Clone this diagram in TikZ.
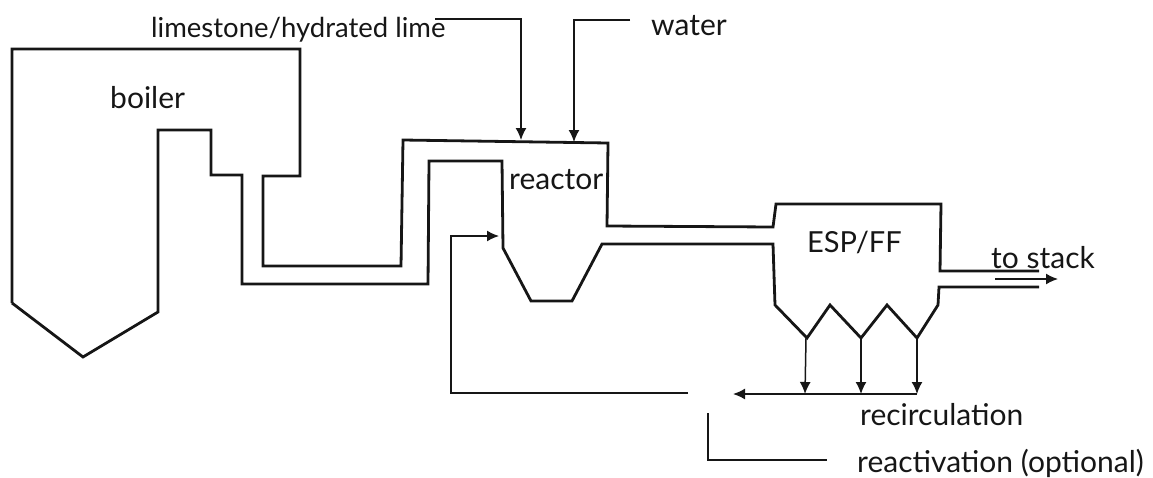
\documentclass[tikz,border=0pt]{standalone}
\usepackage{fontspec}
\setmainfont{Lato}
\usetikzlibrary{arrows.meta,positioning}
\definecolor{inkblack}{HTML}{161616}

\begin{document}
\begin{tikzpicture}[
    x=1pt, y=-1pt,
    wall/.style={draw=inkblack, line width=2.8pt, line join=miter},
    feed/.style={draw=inkblack, line width=1.5pt, -{Latex[length=12pt,width=11pt]}},
    plainline/.style={draw=inkblack, line width=1.5pt},
    tag/.style={text=inkblack, font=\fontsize{30}{32}\selectfont, inner sep=0pt, anchor=base west}
]
  \useasboundingbox (0,0) rectangle (1153,477);

  \node[tag, font=\fontsize{27.5}{32}\selectfont] (lime) at (151,37) {limestone/hydrated lime};
  \node[tag] (water) at (651,35) {water};
  \node[tag] (boiler) at (110,108) {boiler};
  \node[tag] (reactor) at (509,189) {reactor};
  \node[tag, font=\fontsize{29}{32}\selectfont] (esp) at (807,252) {ESP/FF};
  \node[tag] (stack) at (991,268) {to stack};
  \node[tag] (recirc) at (860,425) {recirculation};
  \node[tag] (react) at (857,472) {reactivation (optional)};

  % flue gas path, upper and lower wall
  \draw[wall] (12,303) -- (12,49) -- (300,49) -- (300,176) -- (263,176) -- (263,266) -- (401,266) -- (403,140) -- (608,143) -- (607,226) -- (773,227) -- (776,204) -- (941,204) -- (940,271) -- (1039,271);
  \draw[wall] (12,303) -- (83,357) -- (158,312) -- (158,130) -- (211,130) -- (211,175) -- (242,175) -- (242,284) -- (428,284) -- (429,161) -- (502,161) -- (503,248) -- (531,301) -- (572,301) -- (602,244) -- (773,244) -- (775,305) -- (807,338) -- (830,305) -- (861,338) -- (887,305) -- (917,338) -- (938,305) -- (939,287) -- (1039,287);

  \coordinate (limestart) at (435,19);
  \coordinate (limeend) at (521,140);
  \coordinate (waterstart) at (630,20);
  \coordinate (waterend) at (574,142);
  \coordinate (reacin) at (499,236);
  \coordinate (recyend) at (688,393);
  \coordinate (hopa) at (806,338);
  \coordinate (hopb) at (861,338);
  \coordinate (hopc) at (917,338);
  \coordinate (busa) at (805,394);
  \coordinate (busb) at (861,394);
  \coordinate (busc) at (917,394);
  \coordinate (busend) at (733,394);
  \coordinate (stackstart) at (995,279);
  \coordinate (stackend) at (1058,279);
  \coordinate (reacta) at (708,413);
  \coordinate (reactb) at (827,460);

  \draw[feed] (limestart) -| (limeend);
  \draw[feed] (waterstart) -| (waterend);
  \draw[feed] (recyend) -| (451,236) -- (reacin);
  \draw[feed] (hopa) -- (busa);
  \draw[feed] (hopb) -- (busb);
  \draw[feed] (hopc) -- (busc);
  \draw[feed] (busc) -- (busend);
  \draw[feed] (stackstart) -- (stackend);
  \draw[plainline] (reacta) |- (reactb);
\end{tikzpicture}
\end{document}
